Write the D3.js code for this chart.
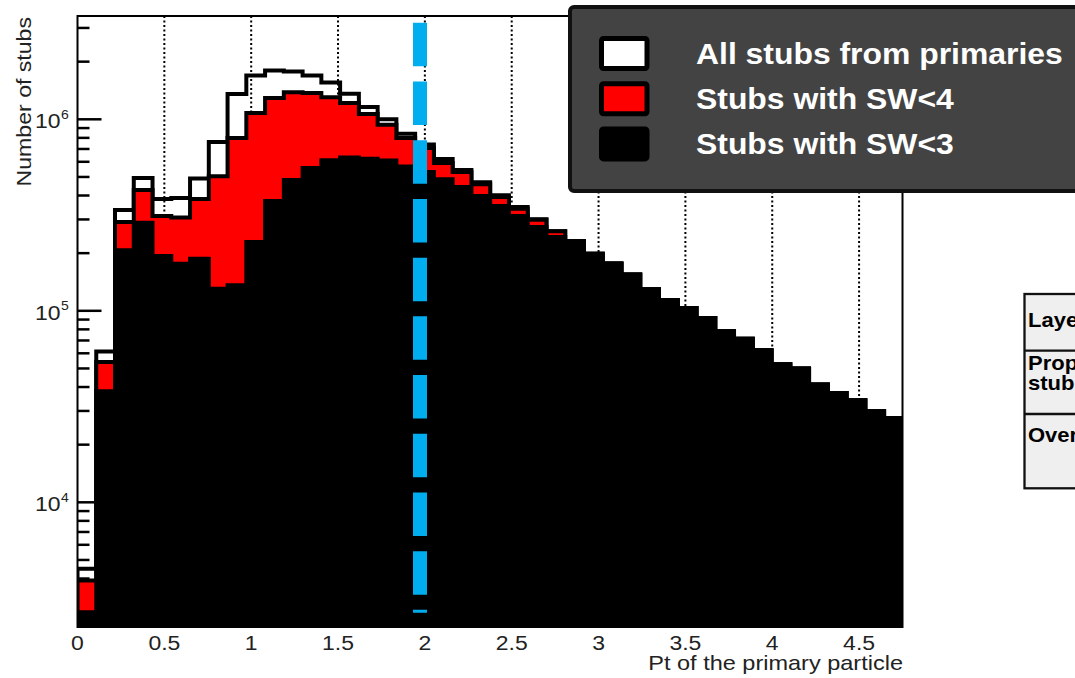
<!DOCTYPE html>
<html>
<head>
<meta charset="utf-8">
<script src="https://cdn.jsdelivr.net/npm/d3@7"></script>
<style>
  html, body { margin: 0; padding: 0; background: #ffffff; }
  svg { display: block; }
  text { font-family: "Liberation Sans", Arial, Helvetica, sans-serif; }
</style>
</head>
<body>
<svg id="chart" width="1075" height="678"></svg>
<script>
// Pt spectrum of stubs from primary particles, 44 bins of equal width
const binWidth = 0.108;

// All stubs from primaries
const allStubs = [
  4500, 61400, 336000, 494000, 384000, 388000, 491000, 761000, 1356000, 1693000,
  1798000, 1777000, 1693000, 1557000, 1361000, 1159000, 1000000, 841000, 739000, 621000,
  544000, 469000, 401000, 348000, 300500, 260000, 230700, 198700, 176600, 154700,
  129500, 113900, 103400, 91700, 78200, 71500, 62200, 52600, 50000, 41200,
  37200, 34100, 29900, 27600
];

// Stubs with SW<4
const stubsSW4 = [
  3900, 54000, 291000, 427000, 313000, 307000, 384000, 504000, 799000, 1079000,
  1292000, 1384000, 1372000, 1303000, 1216000, 1066000, 937000, 799000, 708000, 591000,
  531000, 458000, 393000, 341000, 299000, 260000, 230700, 198700, 176600, 154700,
  129500, 113900, 103400, 91700, 78200, 71500, 62200, 52600, 50000, 41200,
  37200, 34100, 29900, 27600
];

// Stubs with SW<3
const stubsSW3 = [
  2670, 38000, 207000, 288000, 193000, 176000, 187000, 130500, 136000, 229000,
  374500, 482000, 557000, 611000, 632000, 623000, 609000, 567000, 531000, 486000,
  443000, 398000, 353000, 313000, 274000, 243000, 230700, 198700, 176600, 154700,
  129500, 113900, 103400, 91700, 78200, 71500, 62200, 52600, 50000, 41200,
  37200, 34100, 29900, 27600
];

const xTicks = [0, 0.5, 1, 1.5, 2, 2.5, 3, 3.5, 4, 4.5];
const xTickLabels = ["0", "0.5", "1", "1.5", "2", "2.5", "3", "3.5", "4", "4.5"];
const gridValues = [0.5, 1, 1.5, 2, 2.5, 3, 3.5, 4, 4.5];
const yMajor = [1e4, 1e5, 1e6];
const yMajorExp = ["4", "5", "6"];

const legendLabels = ["All stubs from primaries", "Stubs with SW<4", "Stubs with SW<3"];
const legendFills = ["#ffffff", "#ff0000", "#000000"];

const tableRows = [["Layer"], ["Proportion of", "stubs"], ["Overall"]];

// Pt threshold marker
const cutPt = 1.972;
const cutRange = [2650, 3.19e6];

const svg = d3.select("#chart");
const frame = { left: 77.5, right: 902.5, top: 16, bottom: 627 };
const FONT_SX = 1.12;

const x = d3.scaleLinear().domain([0, 4.75]).range([frame.left, frame.right]);
const y = d3.scaleLog().domain([2233, 3.463e6]).range([frame.bottom, frame.top]);

function label(parent, px, py, str, opt) {
  const o = Object.assign({ size: 20, weight: "normal", anchor: "start", sx: FONT_SX, fill: "#111", rotate: 0 }, opt);
  return parent.append("text")
    .attr("transform", `translate(${px},${py}) rotate(${o.rotate}) scale(${o.sx},1)`)
    .attr("text-anchor", o.anchor)
    .attr("font-size", o.size)
    .attr("font-weight", o.weight)
    .attr("fill", o.fill)
    .text(str);
}

svg.append("defs").append("clipPath").attr("id", "plotClip")
  .append("rect")
  .attr("x", frame.left).attr("y", frame.top)
  .attr("width", frame.right - frame.left).attr("height", frame.bottom - frame.top);

// dotted vertical grid
svg.append("g").selectAll("line").data(gridValues).join("line")
  .attr("x1", d => x(d)).attr("x2", d => x(d))
  .attr("y1", frame.top).attr("y2", frame.bottom)
  .attr("stroke", "#000").attr("stroke-width", 2)
  .attr("stroke-dasharray", "2,2.5");

// y axis ticks (inside the frame)
const minorTicks = [];
for (let e = 3; e <= 6; e++) {
  for (let m = 2; m <= 9; m++) {
    const v = m * Math.pow(10, e);
    if (v > y.domain()[0] && v < y.domain()[1]) minorTicks.push(v);
  }
}
const axisG = svg.append("g");
axisG.selectAll("line.minor").data(minorTicks).join("line")
  .attr("class", "minor")
  .attr("x1", frame.left).attr("x2", frame.left + 12)
  .attr("y1", d => y(d)).attr("y2", d => y(d))
  .attr("stroke", "#000").attr("stroke-width", 2.5);
axisG.selectAll("line.major").data(yMajor).join("line")
  .attr("class", "major")
  .attr("x1", frame.left).attr("x2", frame.left + 24)
  .attr("y1", d => y(d)).attr("y2", d => y(d))
  .attr("stroke", "#000").attr("stroke-width", 2.5);

// histograms
function stepPoints(values) {
  const pts = [[0, y.domain()[0]]];
  values.forEach((v, i) => { pts.push([i * binWidth, v]); pts.push([(i + 1) * binWidth, v]); });
  pts.push([values.length * binWidth, y.domain()[0]]);
  return pts;
}
const line = d3.line().x(d => x(d[0])).y(d => y(d[1]));
const histG = svg.append("g").attr("clip-path", "url(#plotClip)");

histG.append("path").attr("d", line(stepPoints(allStubs)))
  .attr("fill", "none").attr("stroke", "#000").attr("stroke-width", 4)
  .attr("stroke-linejoin", "miter");
histG.append("path").attr("d", line(stepPoints(stubsSW4)) + "Z")
  .attr("fill", "#ff0000").attr("stroke", "#000").attr("stroke-width", 4);
histG.append("path").attr("d", line(stepPoints(stubsSW3)) + "Z")
  .attr("fill", "#000").attr("stroke", "#000").attr("stroke-width", 4);

// frame
svg.append("rect")
  .attr("x", frame.left).attr("y", frame.top)
  .attr("width", frame.right - frame.left).attr("height", frame.bottom - frame.top)
  .attr("fill", "none").attr("stroke", "#000").attr("stroke-width", 2);

// x tick labels and title
const xl = svg.append("g");
xTicks.forEach((t, i) => label(xl, x(t), 650, xTickLabels[i], { size: 20.5, anchor: "middle", fill: "#222" }));
label(xl, 903, 670, "Pt of the primary particle", { size: 21, anchor: "end", fill: "#222" });

// y tick labels with exponent
yMajor.forEach((v, i) => {
  label(xl, 60.5, y(v) + 9, "10", { size: 20.5, anchor: "end", fill: "#222" });
  label(xl, 61, y(v) - 0.5, yMajorExp[i], { size: 12.5, anchor: "start", fill: "#222" });
});
label(xl, 31, 17, "Number of stubs", { size: 21, anchor: "end", fill: "#222", rotate: -90, sx: 1.1 });

// threshold marker
svg.append("line")
  .attr("x1", x(cutPt)).attr("x2", x(cutPt))
  .attr("y1", y(cutRange[1])).attr("y2", y(cutRange[0]))
  .attr("stroke", "#00aeef").attr("stroke-width", 14)
  .attr("stroke-dasharray", "43.5,15.2");

// legend
const lg = svg.append("g");
lg.append("rect").attr("x", 570).attr("y", 7).attr("width", 530).attr("height", 184)
  .attr("rx", 4).attr("fill", "#434343").attr("stroke", "#111").attr("stroke-width", 4);
legendLabels.forEach((t, i) => {
  const top = 38.5 + i * 45.2;
  lg.append("rect").attr("x", 601.5).attr("y", top).attr("width", 45.5).attr("height", 30)
    .attr("rx", 2).attr("fill", legendFills[i]).attr("stroke", "#000").attr("stroke-width", 5);
  label(lg, 696, top + 25, t, { size: 29, weight: "bold", fill: "#ffffff", sx: 1.1 });
});

// side table
const tb = svg.append("g");
const rowEdges = [294, 350.7, 414, 488.3];
tb.append("rect").attr("x", 1024.5).attr("y", rowEdges[0]).attr("width", 120)
  .attr("height", rowEdges[3] - rowEdges[0])
  .attr("fill", "#efefef").attr("stroke", "#111").attr("stroke-width", 2.3);
tb.selectAll("line").data(rowEdges.slice(1, 3)).join("line")
  .attr("x1", 1024.5).attr("x2", 1100).attr("y1", d => d).attr("y2", d => d)
  .attr("stroke", "#111").attr("stroke-width", 2.3);
const rowBaselines = [[327], [370, 389.5], [442]];
tableRows.forEach((lines, r) => {
  lines.forEach((t, j) => label(tb, 1028, rowBaselines[r][j], t, { size: 20, weight: "bold", fill: "#000", sx: 1.1 }));
});
</script>
</body>
</html>
